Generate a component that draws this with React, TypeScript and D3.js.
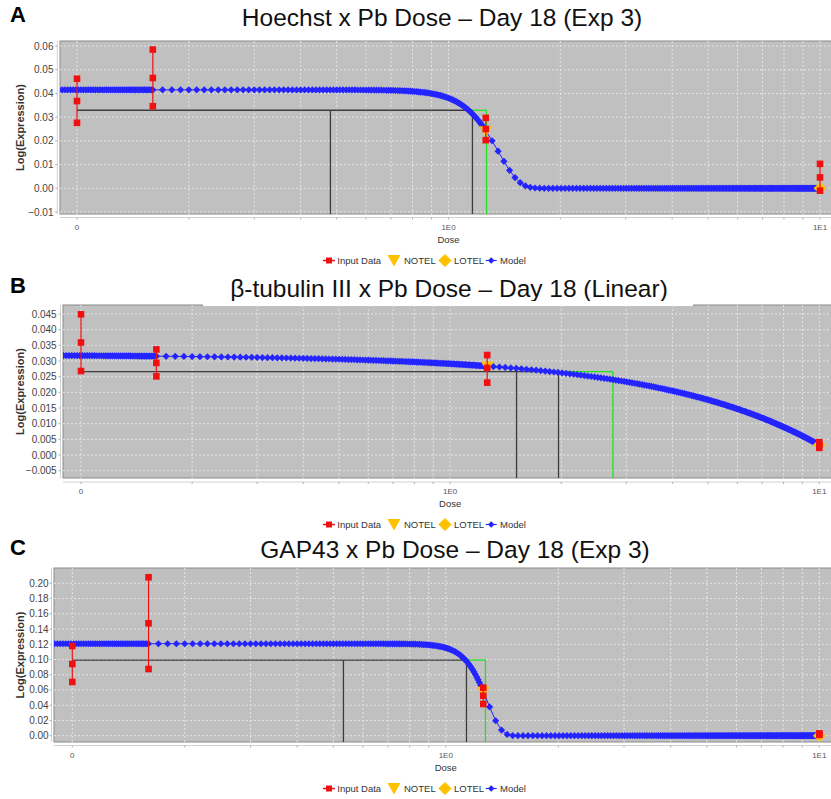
import React from "react";
import * as d3 from "d3";

// ---------- data ----------
const panelLetters = ["A", "B", "C"];
const panelTitles = [
  "Hoechst x Pb Dose – Day 18 (Exp 3)",
  "β-tubulin III x Pb Dose – Day 18 (Linear)",
  "GAP43 x Pb Dose – Day 18 (Exp 3)",
];
const doses = [0, 0.16, 1.26, 10];
// replicate Log(Expression) values per dose
const inputA = [
  [0.0462, 0.0368, 0.0276],
  [0.0585, 0.0465, 0.0346],
  [0.0297, 0.025, 0.0203],
  [0.0103, 0.0046, -0.001],
];
const inputB = [
  [0.0449, 0.0359, 0.0268],
  [0.0337, 0.0294, 0.0251],
  [0.0319, 0.0278, 0.0231],
  [0.0041, 0.0032, 0.0023],
];
const inputC = [
  [0.1177, 0.0941, 0.0705],
  [0.2079, 0.1475, 0.0875],
  [0.063, 0.0525, 0.0416],
  [0.003, 0.002, 0.001],
];
// fitted model parameters
const modelTypes = ["exp3", "linear", "exp3"];
const modelA = [0.0415, 0.733, 7.85]; // a*exp(-(b*d)^c)
const modelB = [0.032, -0.00288]; // a + b*d
const modelC = [0.1207, 0.773, 11.95];
// model evaluation grid step within each dose interval
const modelGridSteps = [0.0016, 0.01, 0.05];
const notelDoses = [1.26, 1.26, 1.26];
const lotelDoses = [10, 10, 10];
const bmdlDoses = [0.481, 1.513, 0.532];
const bmdDoses = [1.16, 1.966, 1.136];
const bmduDoses = [1.266, 2.76, 1.277];
const bmrLevels = [0.0329, 0.0266, 0.0993];
const yTicksA = [-0.01, 0, 0.01, 0.02, 0.03, 0.04, 0.05, 0.06];
const yTicksB = [-0.005, 0, 0.005, 0.01, 0.015, 0.02, 0.025, 0.03, 0.035, 0.04, 0.045];
const yTicksC = [0, 0.02, 0.04, 0.06, 0.08, 0.1, 0.12, 0.14, 0.16, 0.18, 0.2];
const yTickFormats = [".2f", ".3f", ".2f"];
const xTickValues = [0.1, 1, 10];
const xTickLabels = ["0", "1E0", "1E1"];
const legendLabels = ["Input Data", "NOTEL", "LOTEL", "Model"];

// ---------- layout ----------
const layouts = [
  { top: 41, bottom: 214, left: 60, x01: 77, x10: 820, yPix0: 212, yPixN: 46, axisX: 57.3, axisY: 217.5, tickRight: 53.5, titleX: 442, titleY: 26, letterY: 22 },
  { top: 305, bottom: 478, left: 63, x01: 81, x10: 819.3, yPix0: 470.7, yPixN: 314, axisX: 60.5, axisY: 482, tickRight: 56.7, titleX: 449, titleY: 296.7, letterY: 292.7, titleMask: [203, 693] },
  { top: 568, bottom: 742, left: 54, x01: 72.3, x10: 819.3, yPix0: 735.7, yPixN: 583.3, axisX: 51.5, axisY: 745.5, tickRight: 48.7, titleX: 455, titleY: 557.7, letterY: 555 },
];
const RIGHT = 834;
const FONT = "'Liberation Sans', Arial, sans-serif";
const BLUE = "#2424ff";
const RED = "#f01010";
const ORANGE = "#ffc000";
const GREEN = "#22e022";
const DARK = "#3c3c3c";

const diamond = (cx, cy, rx, ry = rx) =>
  `M${cx},${cy - ry}L${cx + rx},${cy}L${cx},${cy + ry}L${cx - rx},${cy}Z`;

function Panel({ idx }) {
  const L = layouts[idx];
  const input = [inputA, inputB, inputC][idx];
  const params = [modelA, modelB, modelC][idx];
  const type = modelTypes[idx];
  const yTicks = [yTicksA, yTicksB, yTicksC][idx];
  const fmt = d3.format(yTickFormats[idx]);

  const x = d3.scaleLog().domain([0.1, 10]).range([L.x01, L.x10]);
  const y = d3
    .scaleLinear()
    .domain([yTicks[0], yTicks[yTicks.length - 1]])
    .range([L.yPix0, L.yPixN]);
  const xd = (d) => x(d === 0 ? 0.1 : d);
  const f = (d) =>
    type === "linear"
      ? params[0] + params[1] * d
      : params[0] * Math.exp(-Math.pow(params[1] * d, params[2]));

  const grid = [];
  for (let k = 0; k < doses.length - 1; k++) {
    d3.range(doses[k], doses[k + 1] - 1e-9, modelGridSteps[k]).forEach((d) => grid.push(d));
  }
  grid.push(doses[doses.length - 1]);
  const modelPts = grid.filter((d) => d > 0).map((d) => [x(d), y(f(d))]);
  const linePath = d3.line()(modelPts);

  const clipId = `clip${idx}`;
  const W = RIGHT - L.left;
  const H = L.bottom - L.top;
  const gridX = x.ticks();
  const yBmr = y(bmrLevels[idx]);

  const nx = x(notelDoses[idx]);
  const ny = y(f(notelDoses[idx]));
  const lx = x(lotelDoses[idx]);
  const ly = y(f(lotelDoses[idx]));

  const legY = L.bottom + 46.5;
  const cy = (L.top + L.bottom) / 2;

  return (
    <g>
      <defs>
        <clipPath id={clipId}>
          <rect x={L.left} y={L.top} width={W} height={H} />
        </clipPath>
      </defs>
      {/* letter + title */}
      <text x={10} y={L.letterY} fontSize={22} fontWeight="bold" fontFamily={FONT} fill="#000">
        {panelLetters[idx]}
      </text>
      <text x={L.titleX} y={L.titleY} fontSize={24.5} textAnchor="middle" fontFamily={FONT} fill="#111">
        {panelTitles[idx]}
      </text>
      {/* plot background */}
      <rect x={L.left} y={L.top} width={W} height={H} fill="#c0c0c0" stroke="#8a8a8a" strokeWidth={1} />
      {L.titleMask && (
        <rect x={L.titleMask[0]} y={L.top - 4} width={L.titleMask[1] - L.titleMask[0]} height={5} fill="#fff" />
      )}
      <g clipPath={`url(#${clipId})`}>
        {/* gridlines */}
        {yTicks.map((t, i) => (
          <line key={"gy" + i} x1={L.left} x2={RIGHT} y1={y(t)} y2={y(t)} stroke="#e4e4e4" strokeWidth={1} strokeDasharray="2,2" />
        ))}
        {gridX.map((t, i) => (
          <line key={"gx" + i} x1={x(t)} x2={x(t)} y1={L.top} y2={L.bottom} stroke="#e4e4e4" strokeWidth={1} strokeDasharray="2,2" />
        ))}
        {/* BMD lines */}
        <line x1={xd(0)} x2={x(bmdDoses[idx])} y1={yBmr} y2={yBmr} stroke={DARK} strokeWidth={1.3} />
        <line x1={x(bmdlDoses[idx])} x2={x(bmdlDoses[idx])} y1={yBmr} y2={L.bottom} stroke={DARK} strokeWidth={1.3} />
        <line x1={x(bmdDoses[idx])} x2={x(bmdDoses[idx])} y1={yBmr} y2={L.bottom} stroke={DARK} strokeWidth={1.3} />
        <line x1={x(bmdDoses[idx])} x2={x(bmduDoses[idx])} y1={yBmr} y2={yBmr} stroke={GREEN} strokeWidth={1.3} />
        <line x1={x(bmduDoses[idx])} x2={x(bmduDoses[idx])} y1={yBmr} y2={L.bottom} stroke={GREEN} strokeWidth={1.3} />
        {/* model */}
        <path d={linePath} fill="none" stroke={BLUE} strokeWidth={1} />
        {modelPts.map((p, i) => (
          <path key={"m" + i} d={diamond(p[0], p[1], 3.6)} fill={BLUE} />
        ))}
        {/* NOTEL / LOTEL */}
        <path d={`M${nx - 6.5},${ny - 4.5}L${nx + 6.5},${ny - 4.5}L${nx},${ny + 6}Z`} fill={ORANGE} />
        <path d={diamond(lx, ly, 6.5, 6)} fill={ORANGE} />
        {/* input data */}
        {doses.map((d, i) => {
          const vals = input[i];
          const cx = xd(d);
          return (
            <g key={"d" + i}>
              <line x1={cx} x2={cx} y1={y(d3.min(vals))} y2={y(d3.max(vals))} stroke={RED} strokeWidth={1.2} />
              {vals.map((v, j) => (
                <rect key={j} x={cx - 3.3} y={y(v) - 3.3} width={6.6} height={6.6} fill={RED} />
              ))}
            </g>
          );
        })}
      </g>
      {/* axes */}
      <line x1={L.axisX} x2={L.axisX} y1={L.top} y2={L.bottom} stroke="#d0d0d0" strokeWidth={1} />
      <line x1={L.left} x2={RIGHT} y1={L.axisY} y2={L.axisY} stroke="#d0d0d0" strokeWidth={1} />
      {yTicks.map((t, i) => (
        <g key={"yt" + i}>
          <line x1={L.axisX - 2} x2={L.axisX} y1={y(t)} y2={y(t)} stroke="#b0b0b0" />
          <text x={L.tickRight} y={y(t)} dy="0.35em" fontSize={10} textAnchor="end" fontFamily={FONT} fill="#444">
            {fmt(t)}
          </text>
        </g>
      ))}
      {gridX.map((t, i) => (
        <line key={"xt" + i} x1={x(t)} x2={x(t)} y1={L.axisY} y2={L.axisY + 2} stroke="#b0b0b0" />
      ))}
      {xTickValues.map((t, i) => (
        <text key={"xl" + i} x={x(t)} y={L.bottom + 15.8} fontSize={8} textAnchor="middle" fontFamily={FONT} fill="#555">
          {xTickLabels[i]}
        </text>
      ))}
      <text x={x(1)} y={L.bottom + 29.3} fontSize={9.5} textAnchor="middle" fontFamily={FONT} fill="#333">
        Dose
      </text>
      <text
        transform={`translate(24,${cy}) rotate(-90)`}
        fontSize={11}
        fontWeight="bold"
        textAnchor="middle"
        fontFamily={FONT}
        fill="#333"
      >
        Log(Expression)
      </text>
      {/* legend */}
      <g fontFamily={FONT} fontSize={9.5} fill="#333">
        <line x1={323} x2={335} y1={legY} y2={legY} stroke={RED} strokeWidth={1.5} />
        <rect x={326} y={legY - 3} width={6} height={6} fill={RED} />
        <text x={337.3} y={legY} dy="0.35em">{legendLabels[0]}</text>
        <path d={`M${387.5},${legY - 5.5}L${400.5},${legY - 5.5}L${394},${legY + 6}Z`} fill={ORANGE} />
        <text x={404} y={legY} dy="0.35em">{legendLabels[1]}</text>
        <path d={diamond(445, legY, 6.7, 6.5)} fill={ORANGE} />
        <text x={454} y={legY} dy="0.35em">{legendLabels[2]}</text>
        <line x1={485.7} x2={496.7} y1={legY} y2={legY} stroke={BLUE} strokeWidth={1.2} />
        <path d={diamond(491.2, legY, 3.2)} fill={BLUE} />
        <text x={500} y={legY} dy="0.35em">{legendLabels[3]}</text>
      </g>
    </g>
  );
}

export default function App() {
  return (
    <svg
      width={831}
      height={799}
      style={{ position: "absolute", left: 0, top: 0, background: "#fff" }}
    >
      <rect x={0} y={0} width={831} height={799} fill="#fff" />
      {panelLetters.map((_, i) => (
        <Panel key={i} idx={i} />
      ))}
    </svg>
  );
}
